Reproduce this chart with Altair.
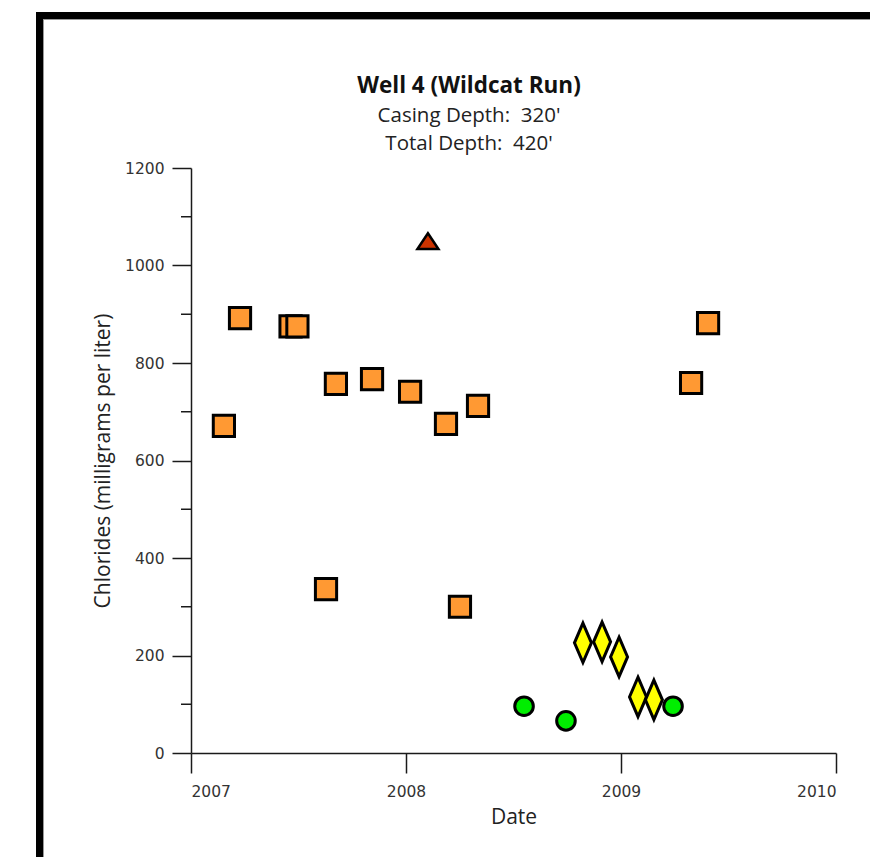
import altair as alt
import pandas as pd

# Orange squares
sq_x = [2007.153, 2007.228, 2007.463, 2007.495, 2007.628, 2007.674, 2007.842,
        2008.019, 2008.186, 2008.251, 2008.335, 2009.326, 2009.405]
sq_y = [671, 892, 875, 875, 336, 757, 767, 741, 675, 300, 712, 759, 882]
# Red triangle
tri_x = [2008.102]
tri_y = [1050]
# Yellow diamonds
dia_x = [2008.823, 2008.912, 2008.991, 2009.079, 2009.153]
dia_y = [226, 228, 197, 115, 109]
# Green circles
cir_x = [2008.549, 2008.744, 2009.242]
cir_y = [96, 66, 96]

major_y = [0, 200, 400, 600, 800, 1000, 1200]
minor_y = [100, 300, 500, 700, 900, 1100]
x_ticks = [2007, 2008, 2009, 2010]

title_text = "Well 4 (Wildcat Run)"
subtitle_lines = ["Casing Depth:\u00a0\u00a0320'", "Total Depth:\u00a0\u00a0420'"]

AX = "#1a1a1a"
LBL_FONT = "DejaVu Sans"

xs = alt.X("x:Q", scale=alt.Scale(domain=[2007, 2010], nice=False, zero=False),
           axis=alt.Axis(values=x_ticks, format="d", title="Date", grid=False,
                         tickSize=20, tickWidth=1.5, domainWidth=1.5,
                         domainColor=AX, tickColor=AX, labelPadding=11,
                         labelFont=LBL_FONT, labelFontSize=15.5, labelColor="#333",
                         titleFont="Open Sans", titleFontSize=21, titleFontWeight="normal",
                         titleColor="#222", titlePadding=7))
ys = alt.Y("y:Q", scale=alt.Scale(domain=[0, 1200], nice=False, zero=True),
           axis=alt.Axis(values=major_y, format="d", title="Chlorides (milligrams per liter)",
                         grid=False, tickSize=19, tickWidth=1.5, domainWidth=1.5,
                         domainColor=AX, tickColor=AX, labelPadding=8,
                         labelFont=LBL_FONT, labelFontSize=15.5, labelColor="#333",
                         titleFont="Open Sans", titleFontSize=21, titleFontWeight="normal",
                         titleColor="#222", titlePadding=11))

sq = pd.DataFrame({"x": sq_x, "y": sq_y})
tri = pd.DataFrame({"x": tri_x, "y": tri_y})
dia = pd.DataFrame({"x": dia_x, "y": dia_y})
cir = pd.DataFrame({"x": cir_x, "y": cir_y})
minor = pd.DataFrame({"y": minor_y})
one = pd.DataFrame({"a": [0]})

squares = alt.Chart(sq).mark_point(shape="square", filled=True, fill="#ff9933", stroke="black",
                                   strokeWidth=3, size=450, opacity=1).encode(x=xs, y=ys)
triangle = alt.Chart(tri).mark_point(shape="M0,-0.75L1,0.75L-1,0.75Z", filled=True, fill="#cc3300",
                                     stroke="black", strokeWidth=2.5, size=441, opacity=1).encode(x=xs, y=ys)
diamonds = alt.Chart(dia).mark_point(shape="M0,-1L0.43,0L0,1L-0.43,0Z", filled=True, fill="#ffff00",
                                     stroke="black", strokeWidth=3, size=1560, opacity=1).encode(x=xs, y=ys)
circles = alt.Chart(cir).mark_point(shape="circle", filled=True, fill="#00ee00", stroke="black",
                                    strokeWidth=3, size=346, opacity=1).encode(x=xs, y=ys)

minor_ticks = alt.Chart(minor).mark_rule(color=AX, strokeWidth=1.5).encode(
    y=alt.Y("y:Q"), x=alt.value(-10), x2=alt.value(0))

title_mark = alt.Chart(one).mark_text(
    text=title_text, font="Open Sans", fontSize=22.5, fontWeight="bold", color="#111",
    align="center", baseline="alphabetic").encode(x=alt.value(278), y=alt.value(-75))
sub1_mark = alt.Chart(one).mark_text(
    text=subtitle_lines[0], font="Open Sans", fontSize=20.5, color="#222",
    align="center", baseline="alphabetic").encode(x=alt.value(278), y=alt.value(-46))
sub2_mark = alt.Chart(one).mark_text(
    text=subtitle_lines[1], font="Open Sans", fontSize=20.5, color="#222",
    align="center", baseline="alphabetic").encode(x=alt.value(278), y=alt.value(-18))

border_top = alt.Chart(one).mark_rule(color="black", strokeWidth=7).encode(
    x=alt.value(-155), x2=alt.value(700), y=alt.value(-152.5))
border_left = alt.Chart(one).mark_rule(color="black", strokeWidth=7).encode(
    x=alt.value(-151.5), y=alt.value(-156), y2=alt.value(700))
shade_top = alt.Chart(one).mark_rule(color="#999", strokeWidth=1).encode(
    x=alt.value(-148), x2=alt.value(700), y=alt.value(-148.5))
shade_left = alt.Chart(one).mark_rule(color="#999", strokeWidth=1).encode(
    x=alt.value(-147.5), y=alt.value(-149), y2=alt.value(700))

chart = alt.layer(
    minor_ticks, squares, triangle, diamonds, circles,
    title_mark, sub1_mark, sub2_mark,
    shade_top, shade_left, border_top, border_left
).properties(
    width=645, height=585,
    autosize=alt.AutoSizeParams(type="none"),
    padding={"left": 183, "top": 160, "right": 34, "bottom": 104},
).configure_view(stroke=None)

chart.save("out.html", embed_options={"renderer": "svg", "actions": False})
